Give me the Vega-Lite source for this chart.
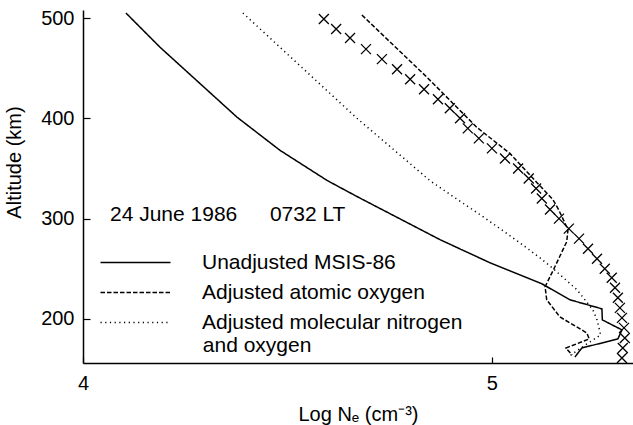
{
  "$schema": "https://vega.github.io/schema/vega-lite/v6.json",
  "width": 550,
  "height": 353,
  "autosize": "none",
  "padding": {"left": 83, "top": 10, "right": 0, "bottom": 62},
  "background": "white",
  "config": {
    "view": {"stroke": null},
    "font": "Liberation Sans",
    "axis": {
      "grid": false,
      "domainColor": "black",
      "domainWidth": 1.5,
      "tickColor": "black",
      "tickWidth": 1.2,
      "labelColor": "black",
      "titleColor": "black",
      "labelFont": "Liberation Sans",
      "titleFont": "Liberation Sans",
      "titleFontWeight": "normal",
      "labelFontSize": 20,
      "titleFontSize": 20
    }
  },
  "datasets": {
    "profiles": [
      {"series": "Unadjusted MSIS-86", "logNe": 4.105, "alt": 505},
      {"series": "Unadjusted MSIS-86", "logNe": 4.188, "alt": 471},
      {"series": "Unadjusted MSIS-86", "logNe": 4.377, "alt": 401},
      {"series": "Unadjusted MSIS-86", "logNe": 4.482, "alt": 368},
      {"series": "Unadjusted MSIS-86", "logNe": 4.597, "alt": 338},
      {"series": "Unadjusted MSIS-86", "logNe": 4.670, "alt": 322},
      {"series": "Unadjusted MSIS-86", "logNe": 4.873, "alt": 279},
      {"series": "Unadjusted MSIS-86", "logNe": 4.995, "alt": 256},
      {"series": "Unadjusted MSIS-86", "logNe": 5.122, "alt": 235},
      {"series": "Unadjusted MSIS-86", "logNe": 5.191, "alt": 219},
      {"series": "Unadjusted MSIS-86", "logNe": 5.269, "alt": 210},
      {"series": "Unadjusted MSIS-86", "logNe": 5.270, "alt": 199},
      {"series": "Unadjusted MSIS-86", "logNe": 5.318, "alt": 189},
      {"series": "Unadjusted MSIS-86", "logNe": 5.308, "alt": 180},
      {"series": "Unadjusted MSIS-86", "logNe": 5.220, "alt": 171},
      {"series": "Unadjusted MSIS-86", "logNe": 5.203, "alt": 162},
      {"series": "Adjusted atomic oxygen", "logNe": 4.682, "alt": 503},
      {"series": "Adjusted atomic oxygen", "logNe": 4.841, "alt": 441},
      {"series": "Adjusted atomic oxygen", "logNe": 4.963, "alt": 391},
      {"series": "Adjusted atomic oxygen", "logNe": 5.044, "alt": 365},
      {"series": "Adjusted atomic oxygen", "logNe": 5.112, "alt": 335},
      {"series": "Adjusted atomic oxygen", "logNe": 5.149, "alt": 319},
      {"series": "Adjusted atomic oxygen", "logNe": 5.163, "alt": 309},
      {"series": "Adjusted atomic oxygen", "logNe": 5.186, "alt": 289},
      {"series": "Adjusted atomic oxygen", "logNe": 5.183, "alt": 277},
      {"series": "Adjusted atomic oxygen", "logNe": 5.154, "alt": 252},
      {"series": "Adjusted atomic oxygen", "logNe": 5.130, "alt": 232},
      {"series": "Adjusted atomic oxygen", "logNe": 5.134, "alt": 219},
      {"series": "Adjusted atomic oxygen", "logNe": 5.166, "alt": 202},
      {"series": "Adjusted atomic oxygen", "logNe": 5.232, "alt": 186},
      {"series": "Adjusted atomic oxygen", "logNe": 5.238, "alt": 180},
      {"series": "Adjusted atomic oxygen", "logNe": 5.181, "alt": 171},
      {"series": "Adjusted atomic oxygen", "logNe": 5.196, "alt": 164},
      {"series": "Adjusted molecular nitrogen and oxygen", "logNe": 4.391, "alt": 505},
      {"series": "Adjusted molecular nitrogen and oxygen", "logNe": 4.670, "alt": 400},
      {"series": "Adjusted molecular nitrogen and oxygen", "logNe": 4.848, "alt": 338},
      {"series": "Adjusted molecular nitrogen and oxygen", "logNe": 4.905, "alt": 322},
      {"series": "Adjusted molecular nitrogen and oxygen", "logNe": 4.978, "alt": 302},
      {"series": "Adjusted molecular nitrogen and oxygen", "logNe": 5.068, "alt": 276},
      {"series": "Adjusted molecular nitrogen and oxygen", "logNe": 5.117, "alt": 261},
      {"series": "Adjusted molecular nitrogen and oxygen", "logNe": 5.150, "alt": 250},
      {"series": "Adjusted molecular nitrogen and oxygen", "logNe": 5.208, "alt": 229},
      {"series": "Adjusted molecular nitrogen and oxygen", "logNe": 5.247, "alt": 209},
      {"series": "Adjusted molecular nitrogen and oxygen", "logNe": 5.257, "alt": 199},
      {"series": "Adjusted molecular nitrogen and oxygen", "logNe": 5.266, "alt": 184},
      {"series": "Adjusted molecular nitrogen and oxygen", "logNe": 5.232, "alt": 175},
      {"series": "Adjusted molecular nitrogen and oxygen", "logNe": 5.186, "alt": 162}
    ],
    "crosses": [
      {"logNe": 4.589, "alt": 499},
      {"logNe": 4.619, "alt": 489},
      {"logNe": 4.653, "alt": 480},
      {"logNe": 4.692, "alt": 469},
      {"logNe": 4.731, "alt": 459},
      {"logNe": 4.768, "alt": 449},
      {"logNe": 4.800, "alt": 439},
      {"logNe": 4.834, "alt": 429},
      {"logNe": 4.868, "alt": 419},
      {"logNe": 4.897, "alt": 410},
      {"logNe": 4.922, "alt": 400},
      {"logNe": 4.941, "alt": 390},
      {"logNe": 4.968, "alt": 380},
      {"logNe": 5.000, "alt": 370},
      {"logNe": 5.032, "alt": 360},
      {"logNe": 5.064, "alt": 350},
      {"logNe": 5.090, "alt": 340},
      {"logNe": 5.108, "alt": 330},
      {"logNe": 5.122, "alt": 320},
      {"logNe": 5.142, "alt": 309},
      {"logNe": 5.164, "alt": 300},
      {"logNe": 5.188, "alt": 290},
      {"logNe": 5.213, "alt": 280},
      {"logNe": 5.235, "alt": 270},
      {"logNe": 5.257, "alt": 260},
      {"logNe": 5.276, "alt": 250},
      {"logNe": 5.293, "alt": 241},
      {"logNe": 5.301, "alt": 231},
      {"logNe": 5.308, "alt": 221},
      {"logNe": 5.313, "alt": 211},
      {"logNe": 5.318, "alt": 201},
      {"logNe": 5.323, "alt": 191},
      {"logNe": 5.325, "alt": 181},
      {"logNe": 5.320, "alt": 171},
      {"logNe": 5.318, "alt": 161}
    ],
    "notes": [
      {"note": "24 June 1986", "logNe": 4.066, "alt": 297.5},
      {"note": "0732 LT", "logNe": 4.457, "alt": 297.5},
      {"note": "and oxygen", "logNe": 4.293, "alt": 167}
    ]
  },
  "layer": [
    {
      "data": {"name": "profiles"},
      "mark": {"type": "line", "color": "black", "strokeWidth": 1.5},
      "encoding": {
        "x": {
          "field": "logNe",
          "type": "quantitative",
          "scale": {"domain": [4, 5.345], "nice": false, "zero": false},
          "axis": {
            "values": [4, 5],
            "format": "d",
            "title": "Log Nₑ (cm⁻³)",
            "tickSize": -6,
            "labelPadding": 16,
            "labelFlush": false,
            "titleBaseline": "alphabetic",
            "titleY": 57
          }
        },
        "y": {
          "field": "alt",
          "type": "quantitative",
          "scale": {"domain": [156, 508], "nice": false, "zero": false},
          "axis": {
            "values": [200, 300, 400, 500],
            "title": "Altitude (km)",
            "tickSize": -7,
            "labelPadding": 16,
            "titleAngle": -90,
            "titleX": -69,
            "titleY": 152,
            "titleBaseline": "middle",
            "titleAlign": "center"
          }
        },
        "strokeDash": {
          "field": "series",
          "type": "nominal",
          "scale": {
            "domain": ["Unadjusted MSIS-86", "Adjusted atomic oxygen", "Adjusted molecular nitrogen and oxygen"],
            "range": [[1, 0], [4.5, 2], [1.2, 3.5]]
          },
          "legend": {
            "orient": "none",
            "legendX": 42,
            "legendY": 242,
            "title": null,
            "padding": 0,
            "symbolType": "M-5,0L5,0",
            "symbolSize": 196,
            "symbolStrokeWidth": 1.5,
            "symbolStrokeColor": "black",
            "labelFontSize": 21,
            "labelFont": "Liberation Sans",
            "labelColor": "black",
            "labelOffset": 56,
            "labelLimit": 600,
            "rowPadding": 8,
            "labelBaseline": "middle",
            "labelExpr": "datum.label === 'Adjusted molecular nitrogen and oxygen' ? 'Adjusted molecular nitrogen' : datum.label"
          }
        },
        "order": {"field": "alt", "sort": "descending"}
      }
    },
    {
      "data": {"name": "crosses"},
      "mark": {"type": "point", "shape": "M-1,-1L1,1M-1,1L1,-1", "size": 100, "filled": false, "stroke": "black", "strokeWidth": 1.3, "opacity": 1},
      "encoding": {
        "x": {"field": "logNe", "type": "quantitative"},
        "y": {"field": "alt", "type": "quantitative"}
      }
    },
    {
      "data": {"name": "notes"},
      "mark": {"type": "text", "align": "left", "baseline": "alphabetic", "fontSize": 21, "font": "Liberation Sans", "color": "black"},
      "encoding": {
        "x": {"field": "logNe", "type": "quantitative"},
        "y": {"field": "alt", "type": "quantitative"},
        "text": {"field": "note"}
      }
    }
  ]
}
